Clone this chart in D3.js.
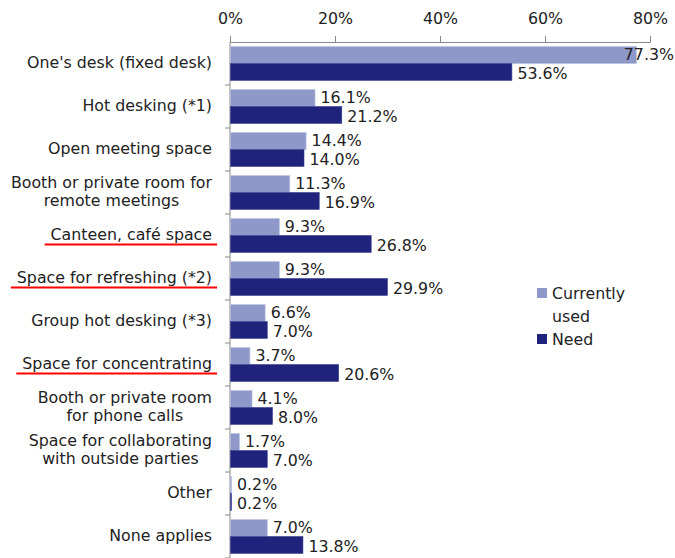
<!DOCTYPE html>
<html>
<head>
<meta charset="utf-8">
<script src="https://cdn.jsdelivr.net/npm/d3@7/dist/d3.min.js"></script>
<style>
  html, body { margin: 0; padding: 0; background: #fff; }
  svg { display: block; }
  text { font-family: "DejaVu Sans", Verdana, sans-serif; fill: #222; }
</style>
</head>
<body>
<svg id="chart" width="675" height="558"></svg>
<script>
// Workplace spaces: share currently used vs. share that is needed (%)
const categories = [
  ["One's desk (fixed desk)"],
  ["Hot desking (*1)"],
  ["Open meeting space"],
  ["Booth or private room for", "remote meetings"],
  ["Canteen, café space"],
  ["Space for refreshing (*2)"],
  ["Group hot desking (*3)"],
  ["Space for concentrating"],
  ["Booth or private room", "for phone calls"],
  ["Space for collaborating", "with outside parties"],
  ["Other"],
  ["None applies"]
];
const currentlyUsed = [77.3, 16.1, 14.4, 11.3, 9.3, 9.3, 6.6, 3.7, 4.1, 1.7, 0.2, 7.0];
const need = [53.6, 21.2, 14.0, 16.9, 26.8, 29.9, 7.0, 20.6, 8.0, 7.0, 0.2, 13.8];
const highlighted = ["Canteen, café space", "Space for refreshing (*2)", "Space for concentrating"];
const xTicks = [0, 20, 40, 60, 80];
const seriesNames = ["Currently used", "Need"];
const colors = ["#8e98c9", "#20237b"];

const svg = d3.select("#chart");
const plotLeft = 230, plotRight = 650, plotTop = 42, plotBottom = 558;
const fs = 15.8;
const labelRight = 212;

const x = d3.scaleLinear().domain([0, 80]).range([plotLeft, plotRight]);
const y = d3.scaleBand().domain(d3.range(categories.length)).range([plotTop, plotBottom]).paddingInner(0).paddingOuter(0);
const inner = d3.scaleBand().domain([0, 1]).range([0, y.bandwidth()]).paddingOuter(0.27).paddingInner(0);

// Top axis
const xAxis = d3.axisTop(x).tickValues(xTicks).tickFormat(d => d + "%").tickSize(6).tickSizeOuter(0);
const gx = svg.append("g").attr("transform", `translate(0,${plotTop})`).call(xAxis);
gx.select(".domain").attr("stroke", "#888");
gx.selectAll(".tick line").attr("stroke", "#888");
gx.selectAll(".tick text").attr("font-size", fs).attr("dy", "-0.55em").attr("fill", "#222")
  .style("font-family", "'DejaVu Sans', Verdana, sans-serif");

// Left axis with ticks between categories
const boundaries = d3.range(categories.length + 1).map(i => plotTop + i * y.step());
svg.append("line").attr("x1", plotLeft).attr("x2", plotLeft).attr("y1", plotTop).attr("y2", plotBottom).attr("stroke", "#888");
svg.selectAll("line.ytick").data(boundaries.slice(1)).join("line")
  .attr("class", "ytick")
  .attr("x1", plotLeft - 5).attr("x2", plotLeft).attr("y1", d => d).attr("y2", d => d).attr("stroke", "#888");

// Bars with value labels (the two labels of a pair are nudged apart slightly)
const series = [currentlyUsed, need];
const labelShift = [-0.5, 1.8];
series.forEach((vals, s) => {
  const g = svg.append("g");
  g.selectAll("rect").data(vals).join("rect")
    .attr("x", x(0) + 0.5)
    .attr("y", (d, i) => y(i) + inner(s))
    .attr("width", d => Math.max(1, x(d) - x(0)))
    .attr("height", inner.bandwidth())
    .attr("fill", colors[s])
    .attr("stroke", s === 0 ? "#b9bfe0" : "#3a3f92")
    .attr("stroke-width", 0.6);
  g.selectAll("text").data(vals).join("text")
    .attr("font-size", fs)
    .attr("dominant-baseline", "central")
    .attr("y", (d, i) => y(i) + inner(s) + inner.bandwidth() / 2 + labelShift[s])
    .each(function (d) {
      const t = d3.select(this).text(d.toFixed(1) + "%");
      const w = this.getComputedTextLength();
      let px = x(d) + 6;
      if (px + w > 674) px = 674 - w;
      t.attr("x", px);
    });
});

// Category labels: single lines end-aligned, two-line labels centred as a block
categories.forEach((lines, i) => {
  const cy = y(i) + y.bandwidth() / 2;
  const lh = 18;
  const t = svg.append("text").attr("font-size", fs);
  const spans = lines.map((ln, k) => t.append("tspan")
    .attr("y", cy + (k - (lines.length - 1) / 2) * lh - 1)
    .attr("dominant-baseline", "central")
    .text(ln));
  if (lines.length === 1) {
    t.attr("text-anchor", "end");
    spans[0].attr("x", labelRight);
  } else {
    const wMax = d3.max(spans, s => s.node().getComputedTextLength());
    t.attr("text-anchor", "middle");
    spans.forEach(s => s.attr("x", labelRight - wMax / 2));
  }
  if (highlighted.includes(lines[0])) {
    const bb = t.node().getBBox();
    svg.append("line")
      .attr("x1", bb.x - 6).attr("x2", bb.x + bb.width + 5)
      .attr("y1", cy + 9).attr("y2", cy + 9)
      .attr("stroke", "#ff0000").attr("stroke-width", 2);
  }
});

// Legend
const legend = svg.append("g");
const legendRows = [{ y: 293, c: colors[0], lines: ["Currently", "used"] }, { y: 339, c: colors[1], lines: ["Need"] }];
legendRows.forEach(r => {
  legend.append("rect").attr("x", 537).attr("y", r.y - 5).attr("width", 10).attr("height", 10).attr("fill", r.c);
  r.lines.forEach((ln, k) => {
    legend.append("text").attr("x", 552).attr("y", r.y + k * 23)
      .attr("font-size", fs).attr("dominant-baseline", "central").text(ln);
  });
});
</script>
</body>
</html>
